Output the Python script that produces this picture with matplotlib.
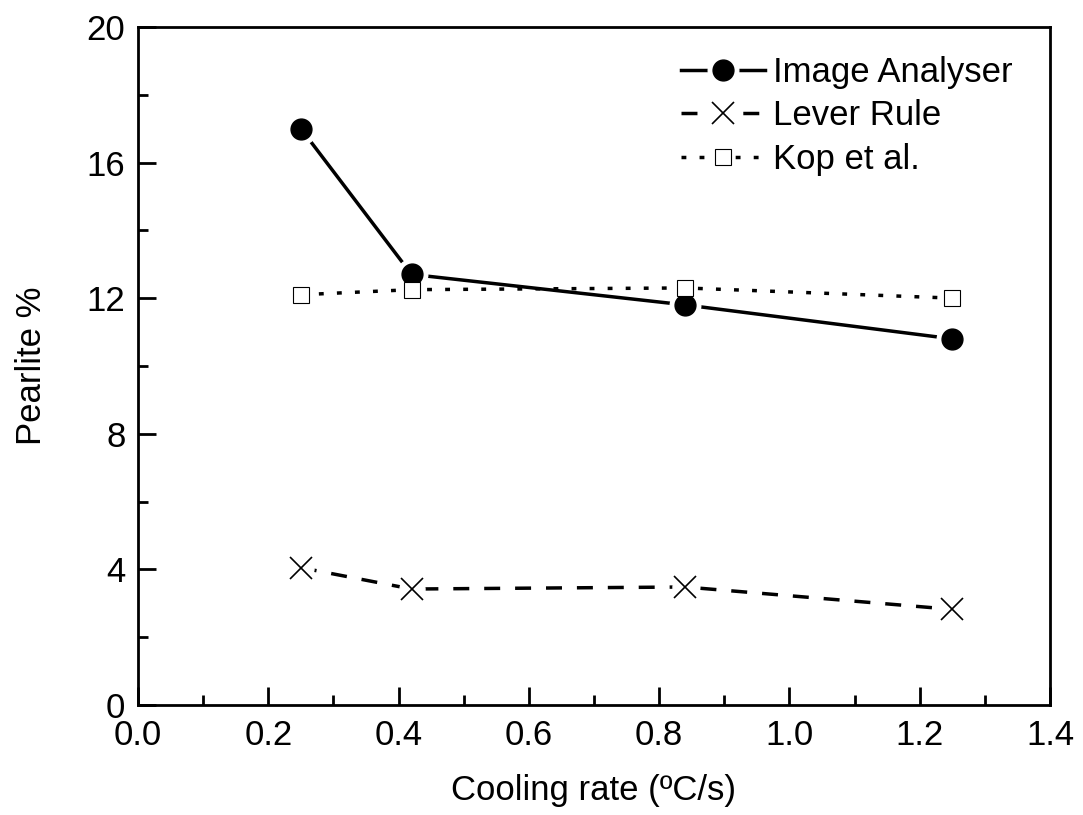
import matplotlib.pyplot as plt
import matplotlib.transforms as mtransforms
from matplotlib.ticker import MultipleLocator

plt.rcParams['font.family'] = ['Liberation Sans', 'DejaVu Sans']

cooling_rate = [0.25, 0.42, 0.84, 1.25]
image_analyser = [17.0, 12.7, 11.8, 10.8]
lever_rule = [4.05, 3.42, 3.48, 2.82]
kop_et_al = [12.1, 12.25, 12.3, 12.0]

series = [
    # label, values, dashes, marker, size, face, edge width, halo
    ('Image Analyser', image_analyser, None, 'o', 15, 'black', 1, 22),
    ('Lever Rule', lever_rule, (4.6, 4.3), 'x', 16, 'black', 1.2, 18),
    ('Kop et al.', kop_et_al, (1.4, 3.8), 's', 11.5, 'white', 0.8, 15),
]

fig = plt.figure(figsize=(10.83, 8.15), dpi=100)
ax = fig.add_axes([0.1274, 0.135, 0.8421, 0.832])

lines, halos, marks = [], [], []
for name, vals, dash, m, ms, fc, mew, halo in series:
    ln, = ax.plot(cooling_rate, vals, '-', color='black', lw=2.5, zorder=2)
    if dash:
        ln.set_dashes(dash)
    lines.append(ln)
for name, vals, dash, m, ms, fc, mew, halo in series:
    h, = ax.plot(cooling_rate, vals, ls='none', marker='o' if m == 'x' else m,
                 ms=halo, mfc='white', mec='white', zorder=3)
    halos.append(h)
for name, vals, dash, m, ms, fc, mew, halo in series:
    mk, = ax.plot(cooling_rate, vals, ls='none', marker=m, ms=ms, mfc=fc,
                  mec='black', mew=mew, zorder=4)
    marks.append(mk)

ax.set_xlim(0, 1.4)
ax.set_ylim(0, 20)
ax.xaxis.set_major_locator(MultipleLocator(0.2))
ax.xaxis.set_minor_locator(MultipleLocator(0.1))
ax.yaxis.set_major_locator(MultipleLocator(4))
ax.yaxis.set_minor_locator(MultipleLocator(2))
ax.xaxis.set_major_formatter(plt.FormatStrFormatter('%.1f'))

ax.tick_params(which='both', direction='in', width=2, labelsize=25,
               top=False, right=False)
ax.tick_params(which='major', length=13, pad=9)
ax.tick_params(axis='x', which='major', pad=10)
ax.tick_params(which='minor', length=7)
for s in ax.spines.values():
    s.set_linewidth(2)

ax.set_xlabel('Cooling rate (ºC/s)', fontsize=25, labelpad=16)
ax.set_ylabel('Pearlite %', fontsize=25, labelpad=28)

ax.legend([(l, h, k) for l, h, k in zip(lines, halos, marks)],
          [s[0] for s in series],
          loc='upper right', bbox_to_anchor=(0.9936, 1.0033), frameon=False,
          fontsize=25, numpoints=1, handlelength=2.4, handletextpad=0.25,
          labelspacing=0.3)

# nudge the y "0" up a little so it clears the x "0.0"
fig.canvas.draw()
lab0 = ax.yaxis.get_major_ticks()[0].label1
lab0.set_transform(lab0.get_transform() +
                   mtransforms.ScaledTranslation(0, 5 / 72, fig.dpi_scale_trans))

fig.savefig('out.png', dpi=100)
